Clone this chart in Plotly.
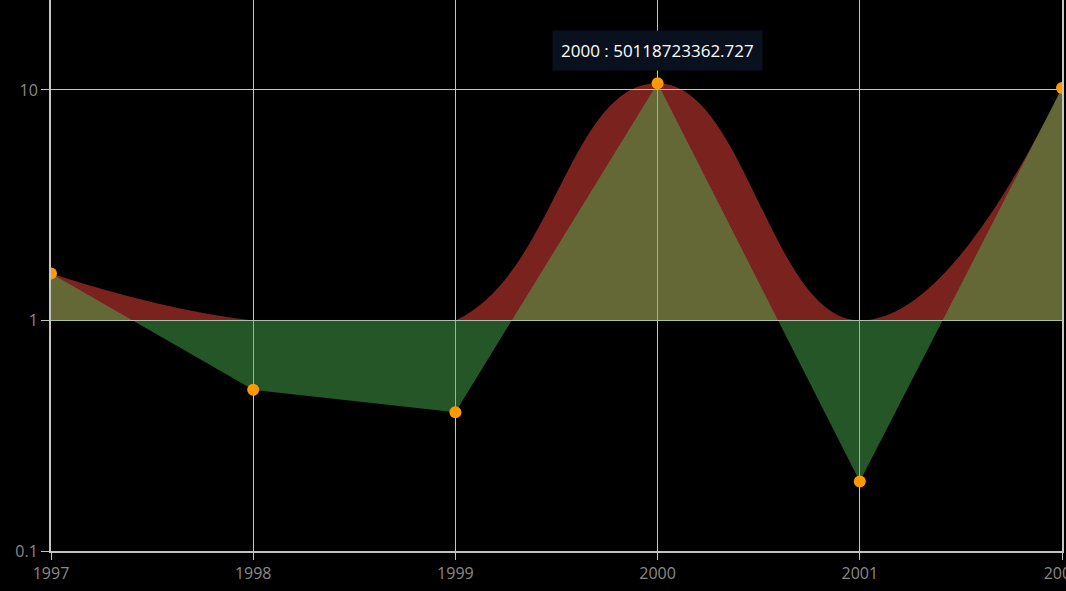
import math

import plotly.graph_objects as go

# data
years = [1997, 1998, 1999, 2000, 2001, 2002]
values = [1.6, 0.5, 0.4, 10.7, 0.2, 10.2]
baseline = 1
y_ticks = [0.1, 1, 10]
y_tick_labels = ["0.1", "1", "10"]
tooltip_year = 2000
tooltip_value = "50118723362.727"

# log range of the value axis (0.1 at the bottom, ~24.5 at the top)
y_min_log, y_max_log = -1, 1.39
split = (math.log10(baseline) - y_min_log) / (y_max_log - y_min_log)

# the red spline only lives above the baseline
above = [max(v, baseline) for v in values]
ones = [baseline] * len(years)

grid_col = "#c4c4c4"
label_col = "#8a8a8a"
font_family = "Open Sans, Noto Sans, sans-serif"

fig = go.Figure()

# red smoothed area, on its own subplot that is clipped at the baseline
fig.add_trace(
    go.Scatter(x=years, y=ones, yaxis="y", mode="lines",
               line=dict(width=0), hoverinfo="skip", showlegend=False)
)
fig.add_trace(
    go.Scatter(x=years, y=above, yaxis="y", mode="lines",
               line=dict(shape="spline", smoothing=1.3, width=0),
               fill="tonexty", fillcolor="rgb(122,34,30)",
               hoverinfo="skip", showlegend=False)
)

# green linear area + markers, filled to the baseline
fig.add_trace(
    go.Scatter(x=years, y=ones, yaxis="y2", mode="lines",
               line=dict(width=0), hoverinfo="skip", showlegend=False)
)
fig.add_trace(
    go.Scatter(x=years, y=values, yaxis="y2", mode="lines+markers",
               line=dict(width=0),
               marker=dict(size=12, color="#ff9900"),
               fill="tonexty", fillcolor="rgba(77,183,85,0.47)",
               showlegend=False)
)

# static copy of the hover label shown in the reference
fig.add_annotation(
    x=tooltip_year,
    y=math.log10(values[years.index(tooltip_year)]),
    xref="x",
    yref="y2",
    text=f"{tooltip_year} : {tooltip_value}",
    showarrow=False,
    yanchor="bottom",
    yshift=12,
    bgcolor="rgb(10,17,30)",
    borderpad=8,
    font=dict(color="white", size=17, family=font_family),
)

fig.update_layout(
    width=1066,
    height=591,
    margin=dict(l=51, r=4, t=0, b=40, autoexpand=False),
    paper_bgcolor="black",
    plot_bgcolor="rgba(0,0,0,0)",
    font=dict(family=font_family, size=16, color=label_col),
    showlegend=False,
    xaxis=dict(
        range=[years[0], years[-1]],
        tickvals=years,
        anchor="y2",
        automargin=False,
        showgrid=True,
        gridcolor=grid_col,
        gridwidth=1,
        zeroline=False,
        showline=True,
        linecolor=grid_col,
        linewidth=2,
        ticks="outside",
        ticklen=7,
        tickcolor=grid_col,
        tickfont=dict(size=16, color=label_col),
        ticklabeloverflow="allow",
    ),
    yaxis=dict(
        type="log",
        range=[math.log10(baseline), y_max_log],
        domain=[split, 1],
        anchor="x",
        visible=False,
        showgrid=False,
    ),
    yaxis2=dict(
        type="log",
        range=[y_min_log, y_max_log],
        domain=[0, 1],
        anchor="x",
        automargin=False,
        tickvals=y_ticks,
        ticktext=y_tick_labels,
        showgrid=True,
        gridcolor=grid_col,
        gridwidth=1,
        zeroline=False,
        showline=True,
        mirror=True,
        linecolor=grid_col,
        linewidth=2,
        ticks="outside",
        ticklen=8,
        tickcolor=grid_col,
        tickfont=dict(size=16, color=label_col),
    ),
)

fig.write_html(
    "out.html",
    config={"displayModeBar": False},
    post_script="document.body.style.margin='0';document.body.style.overflow='hidden';",
)
